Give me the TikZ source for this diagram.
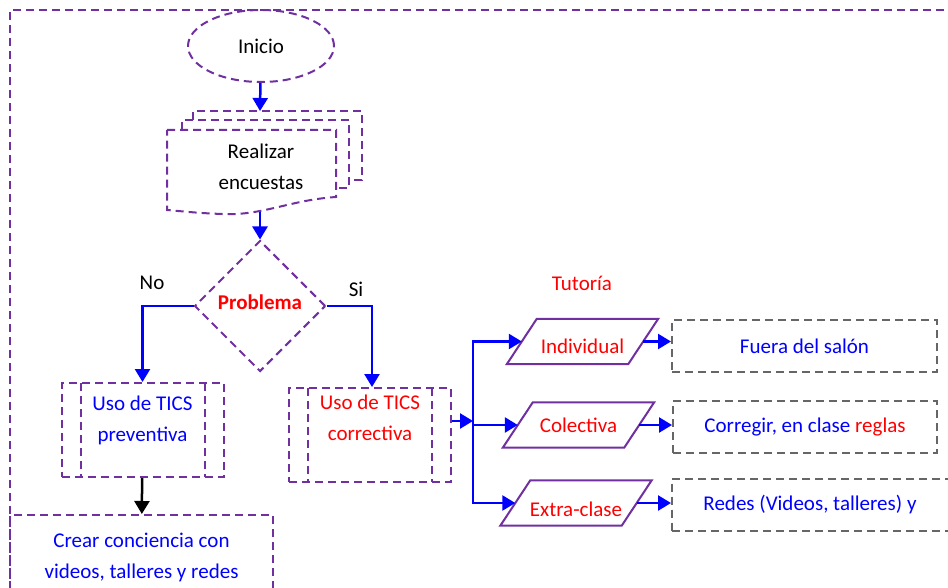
\documentclass[tikz,border=0pt]{standalone}
\usepackage{fontspec}
\setmainfont{Carlito}
\usepackage{xcolor}
\usetikzlibrary{arrows.meta,shapes.geometric}
\definecolor{morado}{HTML}{7030A0}
\definecolor{gris}{HTML}{666666}

\begin{document}
\begin{tikzpicture}[x=1pt, y=-1pt, font=\fontsize{21}{31}\selectfont]
\tikzstyle{borde}=[draw=morado, line width=2pt, dash pattern=on 8pt off 5pt]
\tikzstyle{inicio}=[ellipse, borde, minimum width=146pt, minimum height=72pt]
\tikzstyle{rombo}=[diamond, borde, inner sep=0pt, minimum size=131pt]
\tikzstyle{proceso}=[rectangle, borde, minimum width=162pt, minimum height=94pt,
  path picture={\draw[borde]
    ([xshift=19pt]path picture bounding box.north west) -- ([xshift=19pt]path picture bounding box.south west)
    ([xshift=-19pt]path picture bounding box.north east) -- ([xshift=-19pt]path picture bounding box.south east);}]
\tikzstyle{entrada}=[rectangle, inner sep=0pt, minimum width=121pt, minimum height=45pt, text=red]
\tikzstyle{salida}=[rectangle, draw=gris, line width=2pt, dash pattern=on 8pt off 5pt, minimum height=52pt, text=blue]
\tikzstyle{flecha}=[-{Triangle[length=13pt,width=15pt]}, draw=blue, line width=2.5pt]
\clip (0,0) rectangle (948,588);

% marco
\draw[borde] (10,592) -- (10,10) -- (952,10);

% encuestas (multidocumento)
\draw[borde] (193,120) -- (193,111) -- (362,111) -- (362,180) -- (349,180);
\draw[borde] (182,130) -- (182,120) -- (349,120) -- (349,188) -- (336,188);
\draw[borde] (167,130) -- (336,130) -- (336,197) .. controls (290,200) and (262,216) .. (222,214)
  .. controls (195,213) and (180,211) .. (167,210) -- cycle;
\coordinate (docTop) at (260,111);
\coordinate (docBottom) at (260,212);

\node[inicio] (inicio) at (261,46) {Inicio};
\node[align=center] (encuesta) at (261,167) {Realizar\\encuestas};
\node[rombo, text=red] (problema) at (260,306) {\raisebox{-3pt}[0pt][0pt]{\textbf{Problema}}};
\node (no) at (152,283) {No};
\node (si) at (356,289) {Si};

\node[proceso, label={[anchor=north, align=center, text=blue, yshift=-10pt]north:Uso de TICS\\preventiva}]
  (preventiva) at (142.5,430) {};
\node[proceso, label={[anchor=north, align=center, text=red, yshift=-4pt]north:Uso de TICS\\correctiva}]
  (correctiva) at (370,435) {};
\node[borde, minimum width=263pt, minimum height=84pt, align=center, text=blue]
  (conciencia) at (141.5,557) {Crear conciencia con\\videos, talleres y redes};

% tutoria
\node[text=red] (tutoria) at (582,283) {Tutoría};
\node[entrada] (individual) at (582.5,341.5) {\raisebox{-12pt}[0pt][0pt]{Individual}};
\node[entrada] (colectiva) at (578.5,425) {Colectiva};
\node[entrada] (extra) at (576,503) {\raisebox{-13pt}[0pt][0pt]{Extra-clase}};
\foreach \p in {individual,colectiva,extra}
  \draw[morado, line width=2pt] ([xshift=15pt]\p.north west) -- ([xshift=15pt]\p.north east)
    -- ([xshift=-15pt]\p.south east) -- ([xshift=-15pt]\p.south west) -- cycle;

\node[salida, minimum width=265pt] (fuera) at (804.5,346) {Fuera del salón};
\node[salida, minimum width=264pt] (corregir) at (805,427) {Corregir, en clase \textcolor{red}{reglas}};
\node[salida, minimum width=290pt] (redes) at (817,504.5) {\hspace*{-14pt}Redes (Videos, talleres) y};

\coordinate (tronco) at (473,421);

\path
(inicio) edge[flecha] (docTop)
(docBottom) edge[flecha] (problema)
(correctiva.east |- tronco) edge[flecha] (tronco)
(individual.east) edge[flecha] (individual.east -| fuera.west)
(colectiva.east) edge[flecha] (colectiva.east -| corregir.west)
(extra.east) edge[flecha] (extra.east -| redes.west);

\draw[flecha] (problema.west) -| (preventiva.north);
\draw[flecha] (problema.east) -| ([xshift=2pt]correctiva.north);
\draw[flecha] (tronco) |- (individual.west);
\draw[flecha] (tronco) |- (colectiva.west);
\draw[flecha] (tronco) |- (extra.west);
\draw[flecha, draw=black] (preventiva) -- (conciencia);

\end{tikzpicture}
\end{document}
